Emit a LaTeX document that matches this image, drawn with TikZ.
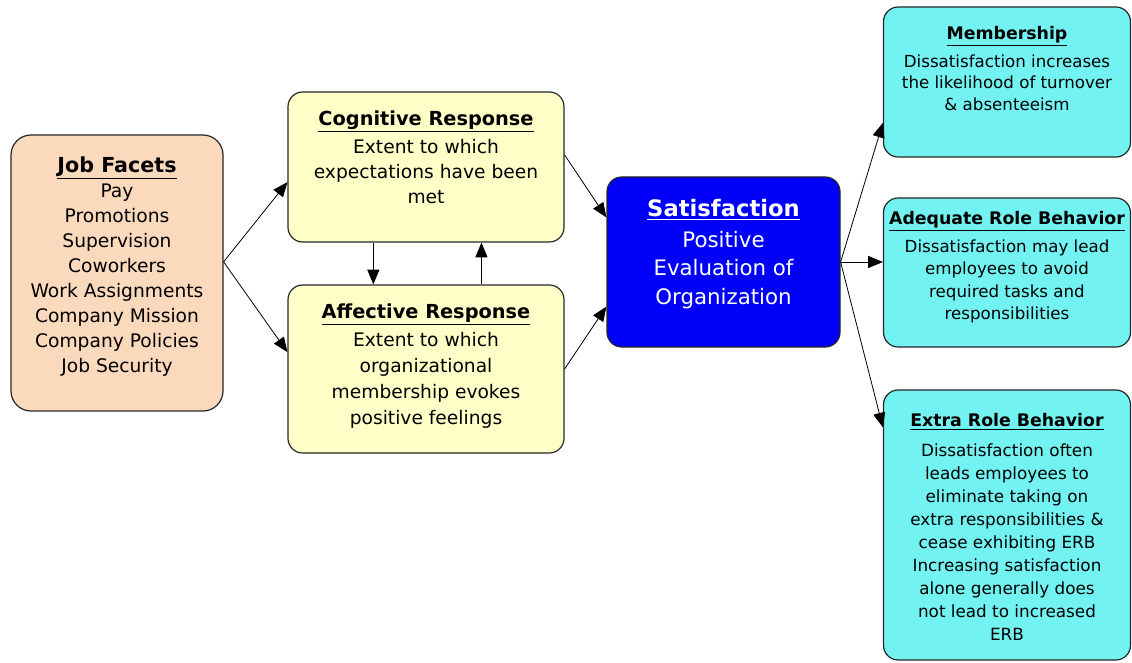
\documentclass[tikz,border=0pt]{standalone}
\usepackage{fontspec}
\setmainfont{DejaVu Sans}
\usetikzlibrary{arrows.meta,calc}

\definecolor{facetfill}{RGB}{251,217,188}
\definecolor{respfill}{RGB}{255,255,200}
\definecolor{satfill}{RGB}{0,0,250}
\definecolor{outfill}{RGB}{115,242,242}

\begin{document}
\begin{tikzpicture}[x=0.75pt,y=-0.75pt,
	box/.style={draw=black!85, line width=0.9pt, rounded corners=11pt, inner sep=0pt},
	txt/.style={align=center, inner sep=0pt, anchor=north},
	link/.style={-{Triangle[length=11pt,width=9pt]}, line width=0.6pt}]
	\useasboundingbox (0,0) rectangle (1132,663);
	
	% Facetas do trabalho
	\node[box, fill=facetfill, rounded corners=15pt, minimum width=159pt, minimum height=207pt] (job) at (117,273) {};
	\node[txt, font=\fontsize{14}{18.75}\selectfont] (jobtxt) at ($(job.north)+(0,22)$)
		{{\fontsize{15.5}{18.75}\selectfont\bfseries\underline{Job Facets}}\\
		Pay\\ Promotions\\ Supervision\\ Coworkers\\ Work Assignments\\
		Company Mission\\ Company Policies\\ Job Security};
	
	% Respostas
	\node[box, fill=respfill, minimum width=207pt, minimum height=112.5pt] (cog) at (426,167) {};
	\node[txt, font=\fontsize{14}{18.75}\selectfont] (cogtxt) at ($(cog.north)+(0,19)$)
		{{\fontsize{14.5}{18.75}\selectfont\bfseries\underline{Cognitive Response}}\\[2.5pt]
		Extent to which\\ expectations have been\\ met};
	\node[box, fill=respfill, minimum width=207pt, minimum height=126pt] (aff) at (426,369) {};
	\node[txt, font=\fontsize{14}{19.5}\selectfont] (afftxt) at ($(aff.north)+(0,19)$)
		{{\fontsize{14.5}{19.5}\selectfont\bfseries\underline{Affective Response}}\\[1.5pt]
		Extent to which\\ organizational\\ membership evokes\\ positive feelings};
	
	% Satisfacao
	\node[box, fill=satfill, minimum width=174.75pt, minimum height=127.5pt] (sat) at (723.5,262) {};
	\node[txt, text=white, font=\fontsize{16}{21.3}\selectfont] (sattxt) at ($(sat.north)+(0,23)$)
		{{\fontsize{17}{21.3}\selectfont\bfseries\underline{Satisfaction}}\\[1.5pt]
		Positive\\ Evaluation of\\ Organization};
	
	% Resultados
	\node[box, fill=outfill, minimum width=185.25pt, minimum height=112.5pt] (mem) at (1007,82) {};
	\node[txt, font=\fontsize{12.5}{15.9}\selectfont] (memtxt) at ($(mem.north)+(0,20)$)
		{{\fontsize{13}{15.9}\selectfont\bfseries\underline{Membership}}\\[5pt]
		Dissatisfaction increases\\ the likelihood of turnover\\ \& absenteeism};
	\node[box, fill=outfill, minimum width=185.25pt, minimum height=111.75pt] (adq) at (1007,272.5) {};
	\node[txt, font=\fontsize{12.5}{16.8}\selectfont] (adqtxt) at ($(adq.north)+(0,14)$)
		{{\fontsize{13}{16.8}\selectfont\bfseries\underline{Adequate Role Behavior}}\\[4pt]
		Dissatisfaction may lead\\ employees to avoid\\ required tasks and\\ responsibilities};
	\node[box, fill=outfill, minimum width=185.25pt, minimum height=202.5pt] (ext) at (1007,525) {};
	\node[txt, font=\fontsize{12.6}{17.25}\selectfont] (exttxt) at ($(ext.north)+(0,24)$)
		{{\fontsize{13}{17.25}\selectfont\bfseries\underline{Extra Role Behavior}}\\[5pt]
		Dissatisfaction often\\ leads employees to\\ eliminate taking on\\
		extra responsibilities \&\\ cease exhibiting ERB\\ Increasing satisfaction\\
		alone generally does\\ not lead to increased\\ ERB};
	
	% Setas
	\coordinate (jobout) at ($(job.north east)!0.46!(job.south east)$);
	\draw[link] (jobout) -- ($(cog.north west)!0.6!(cog.south west)$);
	\draw[link] (jobout) -- ($(aff.north west)!0.4!(aff.south west)$);
	\draw[link] ($(cog.south west)!0.31!(cog.south east)$) -- ($(aff.north west)!0.31!(aff.north east)$);
	\draw[link] ($(aff.north west)!0.70!(aff.north east)$) -- ($(cog.south west)!0.70!(cog.south east)$);
	\draw[link] ($(cog.north east)!0.42!(cog.south east)$) -- ($(sat.north west)!0.24!(sat.south west)$);
	\draw[link] (aff.east) -- ($(sat.north west)!0.76!(sat.south west)$);
	\draw[link] (sat.east) -- ($(mem.north west)!0.77!(mem.south west)$);
	\draw[link] (sat.east) -- (sat.east -| adq.west);
	\draw[link] (sat.east) -- ($(ext.north west)!0.14!(ext.south west)$);
\end{tikzpicture}
\end{document}
